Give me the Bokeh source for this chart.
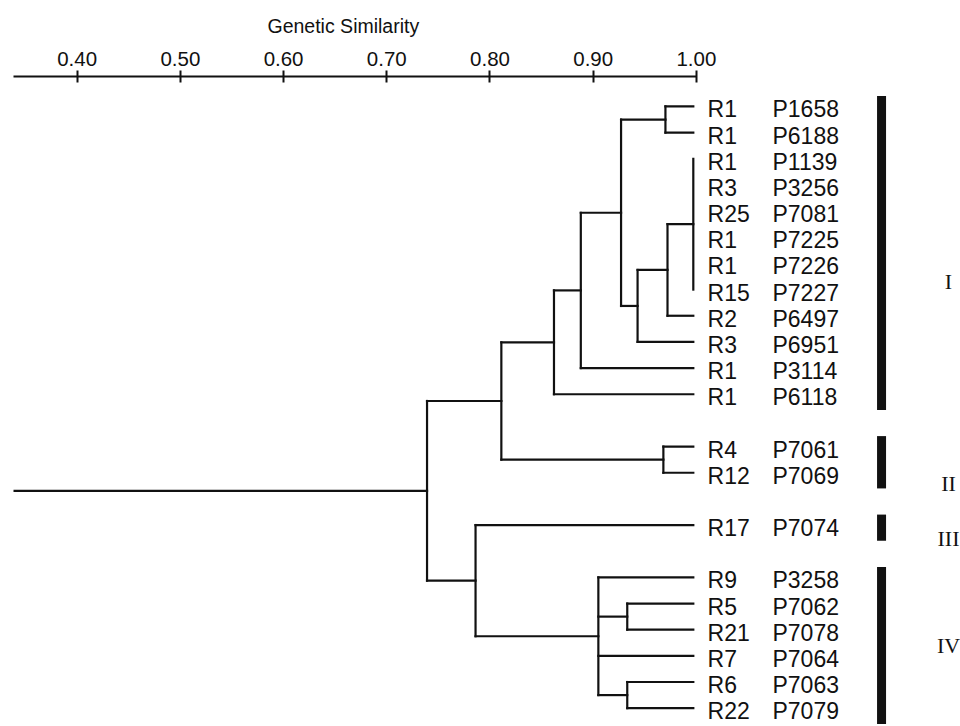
from bokeh.plotting import figure
from bokeh.models import Range1d, FixedTicker, NumeralTickFormatter, ColumnDataSource
from bokeh.embed import file_html
from bokeh.resources import INLINE
from bokeh.core.properties import value

# ---------------- data ----------------
R_LABELS = ["R1", "R1", "R1", "R3", "R25", "R1", "R1", "R15", "R2", "R3", "R1", "R1",
            "R4", "R12", "R17", "R9", "R5", "R21", "R7", "R6", "R22"]
P_LABELS = ["P1658", "P6188", "P1139", "P3256", "P7081", "P7225", "P7226", "P7227",
            "P6497", "P6951", "P3114", "P6118", "P7061", "P7069", "P7074", "P3258",
            "P7062", "P7078", "P7064", "P7063", "P7079"]
LEAF_GROUP = ["I", "I", "I", "I", "I", "I", "I", "I", "I", "I", "I", "I",
              "II", "II", "III", "IV", "IV", "IV", "IV", "IV", "IV"]
GROUPS = ["I", "II", "III", "IV"]
# merges: node id = number of leaves + merge index
MERGE_CHILDREN = [[0, 1], [2, 3, 4, 5, 6, 7], [22, 8], [23, 9], [21, 24], [25, 10],
                  [26, 11], [12, 13], [27, 28], [16, 17], [19, 20], [15, 30, 18, 31],
                  [14, 32], [29, 33]]
MERGE_SIMILARITY = [0.970, 1.000, 0.972, 0.943, 0.927, 0.888, 0.862, 0.968, 0.811,
                    0.933, 0.933, 0.905, 0.786, 0.739]
ROOT_START = 0.338
TICKS = [0.40, 0.50, 0.60, 0.70, 0.80, 0.90, 1.00]
AXIS_TITLE = "Genetic Similarity"

# ---------------- layout / style constants ----------------
LEAF_END = 0.997
R_X = 1.0108
P_X = 1.0737
BAR_X = 1.1794
NUM_X = 1.2443
NUMERAL_ROWS = [6.7, 14.4, 16.5, 20.6]
FONT = "Liberation Sans"
INK = "#111111"

n_leaves = len(R_LABELS)
node_x = {}
node_y = {}
for i, g in enumerate(LEAF_GROUP):
    node_x[i] = LEAF_END
    node_y[i] = i + GROUPS.index(g)

x0, y0, x1, y1 = [], [], [], []
for k, (children, sim) in enumerate(zip(MERGE_CHILDREN, MERGE_SIMILARITY)):
    nid = n_leaves + k
    nx = min(sim, LEAF_END)
    cys = [node_y[c] for c in children]
    node_x[nid] = nx
    node_y[nid] = (min(cys) + max(cys)) / 2
    x0.append(nx); y0.append(min(cys)); x1.append(nx); y1.append(max(cys))
    for c in children:
        if node_x[c] > nx:
            x0.append(node_x[c]); y0.append(node_y[c]); x1.append(nx); y1.append(node_y[c])
root = n_leaves + len(MERGE_CHILDREN) - 1
x0.append(node_x[root]); y0.append(node_y[root]); x1.append(ROOT_START); y1.append(node_y[root])

p = figure(width=960, height=726, output_backend="svg", toolbar_location=None,
           x_range=Range1d(0.3383, 1.2559), y_range=Range1d(23.70, -1.145),
           x_axis_location="above", y_axis_location=None,
           min_border_left=13, min_border_right=0, min_border_top=75, min_border_bottom=0)
p.outline_line_color = None
p.grid.visible = False
p.background_fill_color = "white"
p.border_fill_color = "white"

p.title.text = AXIS_TITLE
p.title.align = "left"
p.title.offset = 254
p.title.text_font = FONT
p.title.text_font_size = "19.5px"
p.title.text_font_style = "normal"
p.title.text_color = INK
p.title.standoff = 24

ax = p.xaxis[0]
ax.ticker = FixedTicker(ticks=TICKS)
ax.formatter = NumeralTickFormatter(format="0.00")
ax.bounds = (0.3383, 1.0)
ax.axis_line_width = 2
ax.axis_line_color = INK
ax.major_tick_line_width = 2
ax.major_tick_line_color = INK
ax.major_tick_out = 6
ax.major_tick_in = 6
ax.minor_tick_line_color = None
ax.major_label_standoff = 5
ax.major_label_text_font = FONT
ax.major_label_text_font_size = "20.5px"
ax.major_label_text_color = INK

p.segment(x0=x0, y0=y0, x1=x1, y1=y1, line_width=2.2, line_color=INK, line_cap="square")

rows = [node_y[i] for i in range(n_leaves)]
src = ColumnDataSource(dict(r=R_LABELS, pl=P_LABELS, y=rows,
                            rx=[R_X] * n_leaves, px=[P_X] * n_leaves))
p.text(x="rx", y="y", text="r", source=src, text_font=value(FONT), text_font_size="23px",
       text_baseline="middle", text_align="left", y_offset=3, text_color=INK)
p.text(x="px", y="y", text="pl", source=src, text_font=value(FONT), text_font_size="23px",
       text_baseline="middle", text_align="left", y_offset=3, text_color=INK)

bx0, by0, by1 = [], [], []
for g in GROUPS:
    gr = [node_y[i] for i in range(n_leaves) if LEAF_GROUP[i] == g]
    bx0.append(BAR_X); by0.append(min(gr) - 0.4); by1.append(max(gr) + 0.6)
p.segment(x0=bx0, y0=by0, x1=bx0, y1=by1, line_width=9, line_color=INK, line_cap="butt")

p.text(x=[NUM_X] * len(GROUPS), y=NUMERAL_ROWS, text=GROUPS, text_font=value("Liberation Serif"),
       text_font_size="22px", text_align="center", text_baseline="middle", text_color=INK)

open("out.html", "w").write(file_html(p, INLINE))
